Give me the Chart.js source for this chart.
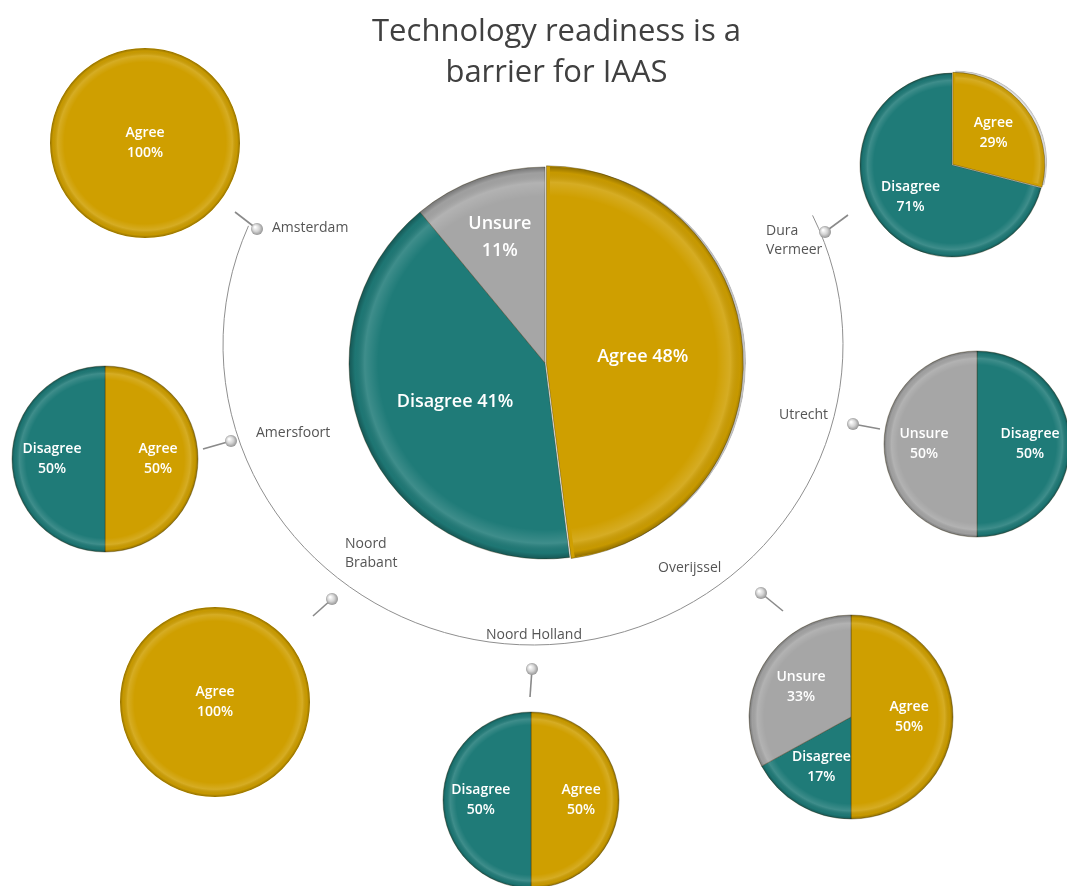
<!DOCTYPE html>
<html>
<head>
<meta charset="utf-8">
<script src="https://cdn.jsdelivr.net/npm/chart.js@4.4.1/dist/chart.umd.min.js"></script>
<style>
  html, body { margin:0; padding:0; background:#fff; }
  #page { position:relative; width:1067px; height:886px; overflow:hidden; font-family:'Open Sans', sans-serif; }
  #page canvas { position:absolute; }
  .title { position:absolute; left:0; top:9px; width:1113px; text-align:center; font-size:31px; line-height:41px; color:#404040; }
  .place { position:absolute; font-size:14px; line-height:19px; color:#555555; white-space:nowrap; }
</style>
</head>
<body>
<div id="page">
  <canvas id="overall" width="1067" height="886"></canvas>
  <div class="title">Technology readiness is a<br>barrier for IAAS</div>
</div>
<script>
// answers + overall result
var answers = ['Agree', 'Disagree', 'Unsure'];
var answerColors = ['#CF9F00', '#1F7B78', '#A6A6A6'];
var overallValues = [48, 41, 11];

// per location (same order as regions)
var regions = ['Amsterdam', 'Dura Vermeer', 'Amersfoort', 'Utrecht', 'Noord Brabant', 'Noord Holland', 'Overijssel'];
var agreeValues = [100, 29, 50, 0, 100, 50, 50];
var disagreeValues = [0, 71, 50, 50, 0, 50, 17];
var unsureValues = [0, 0, 0, 50, 0, 0, 33];

// where things sit on the page
var pieBoxes = [
	{x:145, y:143, r:95, explode:0},	// Amsterdam
	{x:952, y:165, r:92, explode:4},	// Dura Vermeer
	{x:105, y:459, r:93, explode:0},	// Amersfoort
	{x:977, y:444, r:93, explode:0},	// Utrecht
	{x:215, y:702, r:95, explode:0},	// Noord Brabant
	{x:531, y:800, r:88, explode:0},	// Noord Holland
	{x:851, y:717, r:102, explode:0}	// Overijssel
];
var pins = [
	{x:257, y:229, ex:235, ey:212},
	{x:825, y:232, ex:848, ey:215},
	{x:231, y:441, ex:203, ey:449},
	{x:853, y:424, ex:880, ey:429},
	{x:332, y:599, ex:313, ey:616},
	{x:532, y:669, ex:530, ey:697},
	{x:761, y:593, ex:783, ey:611}
];
var placeLabels = [
	{x:272, y:217, wrap:false, center:false},
	{x:766, y:220, wrap:true, center:false},
	{x:256, y:422, wrap:false, center:false},
	{x:779, y:404, wrap:false, center:false},
	{x:345, y:533, wrap:true, center:false},
	{x:534, y:624, wrap:false, center:true},
	{x:658, y:557, wrap:false, center:false}
];

var bevel = {
	id: 'bevel',
	afterDatasetsDraw: function(chart) {
		var ctx = chart.ctx;
		chart.getDatasetMeta(0).data.forEach(function(arc) {
			var p = arc.getProps(['x','y','startAngle','endAngle','outerRadius'], true);
			var off = arc.options.offset || 0;
			var mid = (p.startAngle + p.endAngle) / 2;
			var cx = p.x + Math.cos(mid) * off, cy = p.y + Math.sin(mid) * off;
			ctx.save();
			ctx.beginPath();
			ctx.moveTo(cx, cy);
			ctx.arc(cx, cy, p.outerRadius, p.startAngle, p.endAngle);
			ctx.closePath();
			ctx.clip();
			var g = ctx.createRadialGradient(cx, cy, 0, cx, cy, p.outerRadius);
			g.addColorStop(0, 'rgba(255,255,255,0)');
			g.addColorStop(0.85, 'rgba(255,255,255,0)');
			g.addColorStop(0.92, 'rgba(255,255,255,0.14)');
			g.addColorStop(0.97, 'rgba(0,0,0,0.04)');
			g.addColorStop(1, 'rgba(0,0,0,0.3)');
			ctx.fillStyle = g;
			ctx.fill();
			ctx.restore();
		});
	}
};

var sliceLabels = {
	id: 'sliceLabels',
	afterDatasetsDraw: function(chart, args, opts) {
		var ctx = chart.ctx;
		var ds = chart.data.datasets[0];
		var total = ds.data.reduce(function(a, b) { return a + b; }, 0);
		chart.getDatasetMeta(0).data.forEach(function(arc, i) {
			var v = ds.data[i];
			var share = v / total;
			var p = arc.getProps(['x','y','startAngle','endAngle','outerRadius'], true);
			var mid = (p.startAngle + p.endAngle) / 2;
			var d = share > 0.999 ? 0 : p.outerRadius * (share < 0.15 ? opts.smallDist : opts.dist);
			var lx = p.x + Math.cos(mid) * d, ly = p.y + Math.sin(mid) * d;
			var lines = (opts.inline && share >= 0.15) ? [chart.data.labels[i] + ' ' + v + '%'] : [chart.data.labels[i], v + '%'];
			ctx.save();
			ctx.font = '600 ' + opts.size + 'px "Open Sans", sans-serif';
			ctx.fillStyle = '#ffffff';
			ctx.textAlign = 'center';
			ctx.textBaseline = 'middle';
			var top = ly - (lines.length - 1) * opts.lineHeight / 2;
			lines.forEach(function(t, k) {
				ctx.fillText(t, lx, top + k * opts.lineHeight);
			});
			ctx.restore();
		});
	}
};

var ringAndPins = {
	id: 'ringAndPins',
	beforeDatasetsDraw: function(chart) {
		var ctx = chart.ctx;
		ctx.save();
		ctx.strokeStyle = '#8f8f8f';
		ctx.lineWidth = 1;
		ctx.beginPath();
		ctx.ellipse(533, 345, 310, 300, 0, -25.6 * Math.PI / 180, 203.4 * Math.PI / 180, false);
		ctx.stroke();
		pins.forEach(function(pn) {
			ctx.strokeStyle = '#8a8a8a';
			ctx.lineWidth = 1.6;
			ctx.beginPath();
			ctx.moveTo(pn.x, pn.y);
			ctx.lineTo(pn.ex, pn.ey);
			ctx.stroke();
			var g = ctx.createRadialGradient(pn.x - 2, pn.y - 2, 0.5, pn.x, pn.y, 6.5);
			g.addColorStop(0, '#ffffff');
			g.addColorStop(0.5, '#d4d4d4');
			g.addColorStop(1, '#8c8c8c');
			ctx.fillStyle = g;
			ctx.beginPath();
			ctx.arc(pn.x, pn.y, 6, 0, Math.PI * 2);
			ctx.fill();
		});
		ctx.restore();
	}
};

function pieOptions(radius, padding, labelOpts) {
	return {
		responsive: false,
		animation: false,
		events: [],
		radius: radius,
		layout: { padding: padding },
		plugins: {
			legend: { display: false },
			tooltip: { enabled: false },
			sliceLabels: labelOpts
		}
	};
}

// central pie, on a full page canvas so the ring and pins go under it
new Chart(document.getElementById('overall').getContext('2d'), {
	type: 'pie',
	data: {
		labels: answers,
		datasets: [{
			data: overallValues,
			backgroundColor: answerColors,
			borderColor: 'rgba(60,50,20,0.4)',
			borderWidth: 1,
			offset: [5, 0, 0]
		}]
	},
	options: pieOptions(196, {left: 23, right: 0, top: 0, bottom: 160},
		{size: 18, lineHeight: 27, dist: 0.5, smallDist: 0.68, inline: true}),
	plugins: [ringAndPins, bevel, sliceLabels]
});

var page = document.getElementById('page');
regions.forEach(function(name, i) {
	var box = pieBoxes[i];
	var vals = [agreeValues[i], disagreeValues[i], unsureValues[i]];
	var labels = [], data = [], colors = [], offsets = [];
	vals.forEach(function(v, k) {
		if (v > 0) {
			labels.push(answers[k]);
			data.push(v);
			colors.push(answerColors[k]);
			offsets.push(k == 0 ? box.explode : 0);
		}
	});
	var size = box.r * 2 + 20;
	var cv = document.createElement('canvas');
	cv.width = size;
	cv.height = size;
	cv.style.left = (box.x - size / 2) + 'px';
	cv.style.top = (box.y - size / 2) + 'px';
	page.appendChild(cv);
	new Chart(cv.getContext('2d'), {
		type: 'pie',
		data: {
			labels: labels,
			datasets: [{
				data: data,
				backgroundColor: colors,
				borderColor: 'rgba(60,50,20,0.4)',
				borderWidth: data.length > 1 ? 1 : 0,
				offset: offsets
			}]
		},
		options: pieOptions(box.r, 0, {size: 14, lineHeight: 20, dist: 0.57, smallDist: 0.6, inline: false}),
		plugins: [bevel, sliceLabels]
	});

	var lp = placeLabels[i];
	var div = document.createElement('div');
	div.className = 'place';
	div.innerHTML = lp.wrap ? name.replace(' ', '<br>') : name;
	div.style.left = lp.x + 'px';
	div.style.top = lp.y + 'px';
	if (lp.center) div.style.transform = 'translateX(-50%)';
	page.appendChild(div);
});
</script>
</body>
</html>
